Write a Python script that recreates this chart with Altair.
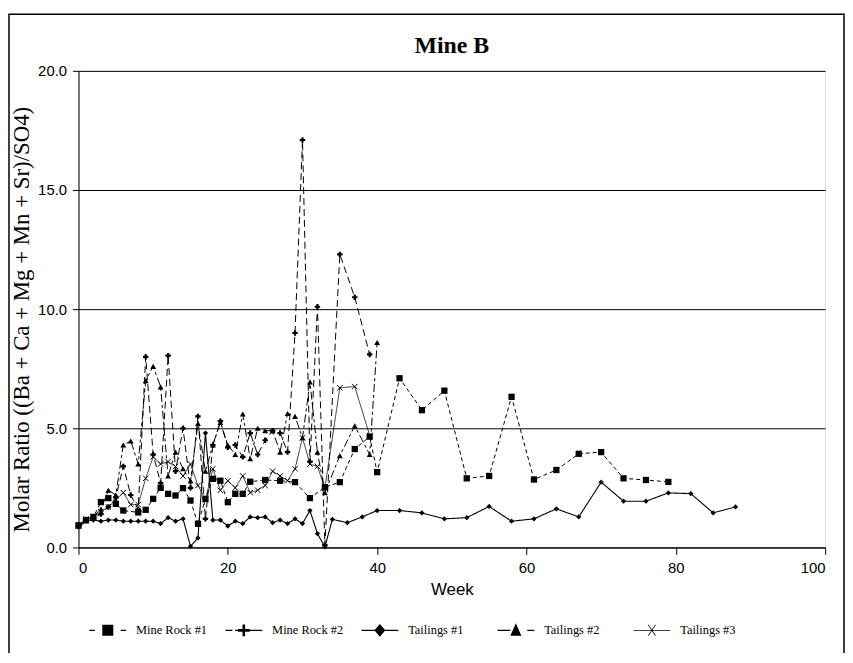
import altair as alt
import pandas as pd

series_names = ["Mine Rock #1", "Mine Rock #2", "Tailings #1", "Tailings #2", "Tailings #3"]

mr1_week = [0, 1, 2, 3, 4, 5, 6, 8, 9, 10, 11, 12, 13, 14, 15, 16, 17, 18, 19, 20, 21, 22, 23,
            25, 27, 29, 31, 33, 35, 37, 39, 40, 43, 46, 49, 52, 55, 58, 61, 64, 67, 70, 73, 76, 79]
mr1_val = [0.93, 1.14, 1.28, 1.9, 2.07, 1.83, 1.55, 1.47, 1.58, 2.04, 2.5, 2.25, 2.18, 2.49, 1.97,
           0.99, 2.04, 2.88, 2.8, 1.9, 2.25, 2.25, 2.76, 2.83, 2.8, 2.74, 2.07, 2.53, 2.74, 4.13,
           4.65, 3.16, 7.1, 5.76, 6.58, 2.9, 3.0, 6.32, 2.85, 3.25, 3.93, 4.0, 2.9, 2.83, 2.75]

mr2_week = list(range(0, 34)) + [35, 37, 39]
mr2_val = [0.9, 1.15, 1.25, 1.4, 1.7, 2.1, 3.4, 2.2, 1.6, 8.0, 3.9, 2.7, 8.05, 3.2, 5.0, 2.5,
           5.5, 1.2, 4.3, 5.3, 4.2, 4.3, 3.8, 4.8, 3.9, 4.5, 4.9, 4.8, 4.0, 9.0, 17.1, 3.6,
           10.1, 0.1, 12.3, 10.5, 8.1]

t1_week = list(range(0, 35)) + [36, 38, 40, 43, 46, 49, 52, 55, 58, 61, 64, 67, 70, 73, 76, 79, 82, 85, 88]
t1_val = [0.85, 1.1, 1.15, 1.1, 1.15, 1.15, 1.1, 1.1, 1.1, 1.1, 1.1, 1.0, 1.25, 1.1, 1.2, 0.05,
          0.4, 4.8, 1.15, 1.15, 0.9, 1.1, 1.0, 1.28, 1.25, 1.28, 1.04, 1.15, 1.0, 1.2, 1.0, 1.55,
          0.58, 0.02, 1.18, 1.04, 1.28, 1.55, 1.55, 1.45, 1.2, 1.25, 1.72, 1.1, 1.2, 1.62, 1.28,
          2.74, 1.94, 1.94, 2.29, 2.26, 1.45, 1.7]

t2_week = list(range(0, 34)) + [35, 37, 39, 40]
t2_val = [0.9, 1.2, 1.3, 1.6, 2.4, 2.2, 4.3, 4.47, 3.5, 7.0, 7.6, 6.74, 3.0, 4.0, 3.3, 2.8,
          5.2, 3.2, 4.3, 5.24, 4.3, 3.9, 5.6, 3.72, 5.0, 4.9, 4.9, 4.0, 5.62, 5.5, 4.6, 6.95,
          4.0, 2.3, 3.85, 5.1, 3.9, 8.6]

t3_week = list(range(0, 34)) + [35, 37, 39]
t3_val = [0.9, 1.2, 1.3, 1.5, 1.7, 2.0, 2.3, 1.8, 1.8, 2.9, 3.8, 3.5, 3.6, 3.4, 3.0, 3.5,
          2.6, 2.0, 3.3, 2.4, 2.8, 2.5, 3.0, 2.3, 2.4, 2.6, 3.2, 3.0, 2.8, 3.3, 4.6, 3.5,
          3.4, 2.5, 6.7, 6.75, 4.7]

x_ticks = [0, 20, 40, 60, 80, 100]
y_ticks = [0, 5, 10, 15, 20]

weeks = [mr1_week, mr2_week, t1_week, t2_week, t3_week]
vals = [mr1_val, mr2_val, t1_val, t2_val, t3_val]

frames = []
for name, w, v in zip(series_names, weeks, vals):
    frames.append(pd.DataFrame({"series": name, "week": w, "ratio": v}))
df = pd.concat(frames, ignore_index=True)

xenc = alt.X("week:Q",
             scale=alt.Scale(domain=[0, 100], nice=False, zero=False),
             axis=alt.Axis(values=x_ticks, grid=False, tickSize=7, labelPadding=6,
                           labelFont="Liberation Sans", labelFontSize=15, labelColor="black",
                           title="Week", titleFont="Liberation Sans", titleFontSize=17,
                           titleFontWeight="normal", titleColor="black", titleY=34,
                           titleBaseline="top", domainColor="black", tickColor="black"))
yenc = alt.Y("ratio:Q",
             scale=alt.Scale(domain=[0, 20], nice=False),
             axis=alt.Axis(values=y_ticks, format=".1f", grid=True, gridColor="black",
                           gridWidth=1, tickSize=6, labelPadding=6,
                           labelFont="Liberation Sans", labelFontSize=15, labelColor="black",
                           title="Molar Ratio ((Ba + Ca + Mg + Mn + Sr)/SO4)",
                           titleFont="Liberation Serif", titleFontSize=23,
                           titleFontWeight="normal", titleColor="black",
                           titleX=-57, titleY=250, titleAngle=270, titleBaseline="middle",
                           titleAlign="center", domainColor="black", tickColor="black"))

styles = {
    "Mine Rock #1": dict(dash=[4, 3], width=1.0, shape="square", size=40, filled=True),
    "Mine Rock #2": dict(dash=[7, 4], width=1.0, shape="cross", size=30, filled=True),
    "Tailings #1": dict(dash=[1, 0], width=1.1, shape="diamond", size=28, filled=True),
    "Tailings #2": dict(dash=[8, 3, 3, 3], width=1.0, shape="triangle-up", size=35, filled=True),
    "Tailings #3": dict(dash=[1, 0], width=0.8, shape="M-1,-1L1,1M-1,1L1,-1", size=30, filled=False),
}

layers = []
for name in series_names:
    st = styles[name]
    sub = df[df["series"] == name]
    base = alt.Chart(sub)
    layers.append(base.mark_line(color="black", strokeWidth=st["width"],
                                 strokeDash=st["dash"]).encode(x=xenc, y=yenc))
    if st["filled"]:
        pm = base.mark_point(shape=st["shape"], filled=True, color="black",
                             size=st["size"], opacity=1)
    else:
        pm = base.mark_point(shape=st["shape"], filled=False, color="black",
                             size=st["size"], opacity=1, strokeWidth=1)
    layers.append(pm.encode(x=xenc, y=yenc))

# legend glyphs: line pieces drawn as thin filled bars so they need no stroke
h = "0.03"
legend_paths = [
    f"M-1,-{h}H-0.7V{h}H-1Z M-0.3,-0.3H0.3V0.3H-0.3Z M0.7,-{h}H1V{h}H0.7Z",
    f"M-1,-{h}H-0.62V{h}H-1Z M-0.48,-{h}H1V{h}H-0.48Z "
    "M-0.07,-0.32H0.07V-0.07H0.32V0.07H0.07V0.32H-0.07V0.07H-0.32V-0.07H-0.07Z",
    f"M-1,-{h}H1V{h}H-1Z M0,-0.35L0.3,0L0,0.35L-0.3,0Z",
    f"M-1,-{h}H-0.3V{h}H-1Z M-0.3,0.3L0,-0.38L0.3,0.3Z M0.62,-{h}H1V{h}H0.62Z",
    "M-1,-0.022H1V0.022H-1Z M-0.22,-0.3L-0.17,-0.3L0.22,0.3L0.17,0.3Z "
    "M0.17,-0.3L0.22,-0.3L-0.17,0.3L-0.22,0.3Z",
]

legend_layer = alt.Chart(df).transform_filter("false").mark_point(
    filled=True, fill="black", opacity=1
).encode(
    x=xenc, y=yenc,
    shape=alt.Shape("series:N",
                    scale=alt.Scale(domain=series_names, range=legend_paths),
                    legend=alt.Legend(orient="none", legendX=11, legendY=545,
                                      direction="horizontal", columns=5, gridAlign="all",
                                      columnPadding=18, symbolSize=1369,
                                      symbolFillColor="black", symbolOpacity=1,
                                      symbolStrokeWidth=0,
                                      labelFont="Liberation Serif", labelFontSize=12.5,
                                      labelColor="black", labelOffset=10, title=None))
)
layers.append(legend_layer)

frame = alt.Chart(alt.Data(values=[{"k": 1}])).mark_rect(
    fill="transparent", stroke="black", strokeWidth=1.5
).encode(x=alt.value(-70), x2=alt.value(771), y=alt.value(-57), y2=alt.value(640))

# the frame rect widens the view bounds upward, so the title offset is negative
chart = alt.layer(frame, *layers).properties(
    width=752, height=480,
    title=alt.TitleParams("Mine B", font="Liberation Serif", fontSize=24, fontWeight="bold",
                          anchor="middle", offset=-45, color="black", frame="group"),
    autosize=alt.AutoSizeParams(type="none"),
    padding={"left": 71, "top": 61, "right": 20, "bottom": 104},
).configure_view(stroke="black", strokeWidth=1).configure(background="white")

chart.save("out.html", embed_options={"renderer": "svg", "actions": False})
